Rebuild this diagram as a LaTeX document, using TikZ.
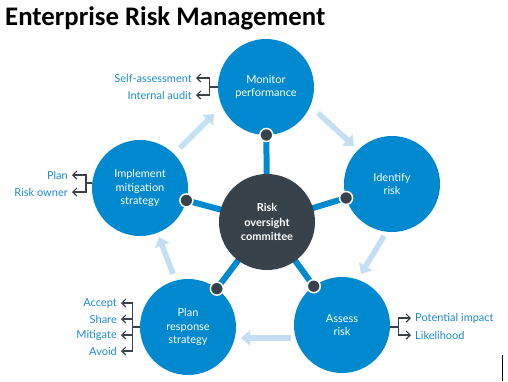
\documentclass[tikz,border=0pt]{standalone}
\usepackage{fontspec}
\setmainfont{Lato}
\newfontfamily\titlefont{Carlito}
\usetikzlibrary{arrows.meta,calc,backgrounds}
\definecolor{cblue}{RGB}{0,137,207}
\definecolor{tblue}{RGB}{30,139,203}
\definecolor{darkc}{RGB}{55,66,74}
\definecolor{lblue}{RGB}{197,223,242}
\definecolor{brk}{RGB}{58,65,73}
\begin{document}
\begin{tikzpicture}[x=1pt,y=-1pt,
  stage/.style={circle,fill=cblue,minimum size=96pt,inner sep=0pt,text=white,align=center,font=\fontsize{11}{13.5}\selectfont},
  hub/.style={circle,fill=darkc,minimum size=96pt,inner sep=0pt,text=white,align=center,font=\bfseries\fontsize{11}{14.5}\selectfont},
  dotc/.style={circle,fill=darkc,draw=white,line width=1.5pt,minimum size=13pt,inner sep=0pt},
  spoke/.style={cblue,line width=6pt},
  flow/.style={lblue,line width=5.5pt,-{Triangle[length=9pt,width=15pt]}},
  side/.style={text=tblue,font=\fontsize{11}{13}\selectfont,inner sep=0pt},
  brack/.style={brk,line width=1.2pt},
  brarrow/.style={brk,line width=1.2pt,-{Straight Barb[length=4pt,width=8pt]}}]
\useasboundingbox (0,0) rectangle (508,381);

\node[anchor=base west,inner sep=0pt,font=\titlefont\bfseries\fontsize{26.8}{30}\selectfont] (title) at (5,25) {Enterprise Risk Management};

\node[hub] (ctr) at (267,222) {Risk\\oversight\\committee};
\node[stage] (mon) at (266,87) {Monitor\\performance};
\node[stage] (idn) at (392,184) {Identify\\risk};
\node[stage] (ass) at (342,325) {Assess\\risk};
\node[stage] (pln) at (188,327) {Plan\\response\\strategy};
\node[stage] (imp) at (140,188) {Implement\\mitigation\\strategy};

\foreach \s in {mon,idn,ass,pln,imp}{
  \node[dotc] (d\s) at ($(\s)!48pt!(ctr)$) {};
}
\begin{scope}[on background layer]
  \fill[white] (0,0) rectangle (508,381);
  \foreach \s in {mon,idn,ass,pln,imp}{
    \draw[spoke] (ctr.center) -- (d\s.center);
  }
\end{scope}

% flow arrows
\coordinate (f1a) at (180,148); \coordinate (f1b) at (214,114);
\coordinate (f2a) at (318,113); \coordinate (f2b) at (354,146);
\coordinate (f3a) at (384,236); \coordinate (f3b) at (361,274);
\coordinate (f4a) at (291,338); \coordinate (f4b) at (241,338);
\coordinate (f5a) at (173,274); \coordinate (f5b) at (159,237);
\draw[flow] (f1a) -- (f1b);
\draw[flow] (f2a) -- (f2b);
\draw[flow] (f3a) -- (f3b);
\draw[flow] (f4a) -- (f4b);
\draw[flow] (f5a) -- (f5b);

% side labels
\node[side,anchor=east] (sa) at (192,78) {Self-assessment};
\node[side,anchor=east] (ia) at (192,95) {Internal audit};
\node[side,anchor=east] (pl) at (68,175) {Plan};
\node[side,anchor=east] (ro) at (68,192) {Risk owner};
\node[side,anchor=east] (ac) at (117,303) {Accept};
\node[side,anchor=east] (sh) at (117,319) {Share};
\node[side,anchor=east] (mi) at (117,335) {Mitigate};
\node[side,anchor=east] (av) at (117,351) {Avoid};
\node[side,anchor=west] (pi) at (415,318) {Potential impact};
\node[side,anchor=west] (lh) at (415,335) {Likelihood};

% brackets
\coordinate (bm) at ($(mon.west)+(-8,0)$);
\draw[brack] (mon.west) -- (bm);
\draw[brarrow] (bm) |- ([xshift=4pt]sa.east);
\draw[brarrow] (bm) |- ([xshift=4pt]ia.east);

\coordinate (bi) at ($(imp.174)+(-6,0)$);
\draw[brack] (imp.174) -- (bi);
\draw[brarrow] (bi) |- ([xshift=4pt]pl.east);
\draw[brarrow] (bi) |- ([xshift=4pt]ro.east);

\coordinate (bp) at ($(pln.west)+(-7,0)$);
\draw[brack] (pln.west) -- (bp);
\foreach \l in {ac,sh,mi,av}{\draw[brarrow] (bp) |- ([xshift=4pt]\l.east);}

\coordinate (ba) at ($(ass.east)+(8,2)$);
\draw[brack] ($(ass.east)+(0,2)$) -- (ba);
\draw[brarrow] (ba) |- ([xshift=-4pt]pi.west);
\draw[brarrow] (ba) |- ([xshift=-4pt]lh.west);

\draw[black,line width=1pt] (502,355) -- (502,381);
\end{tikzpicture}
\end{document}
